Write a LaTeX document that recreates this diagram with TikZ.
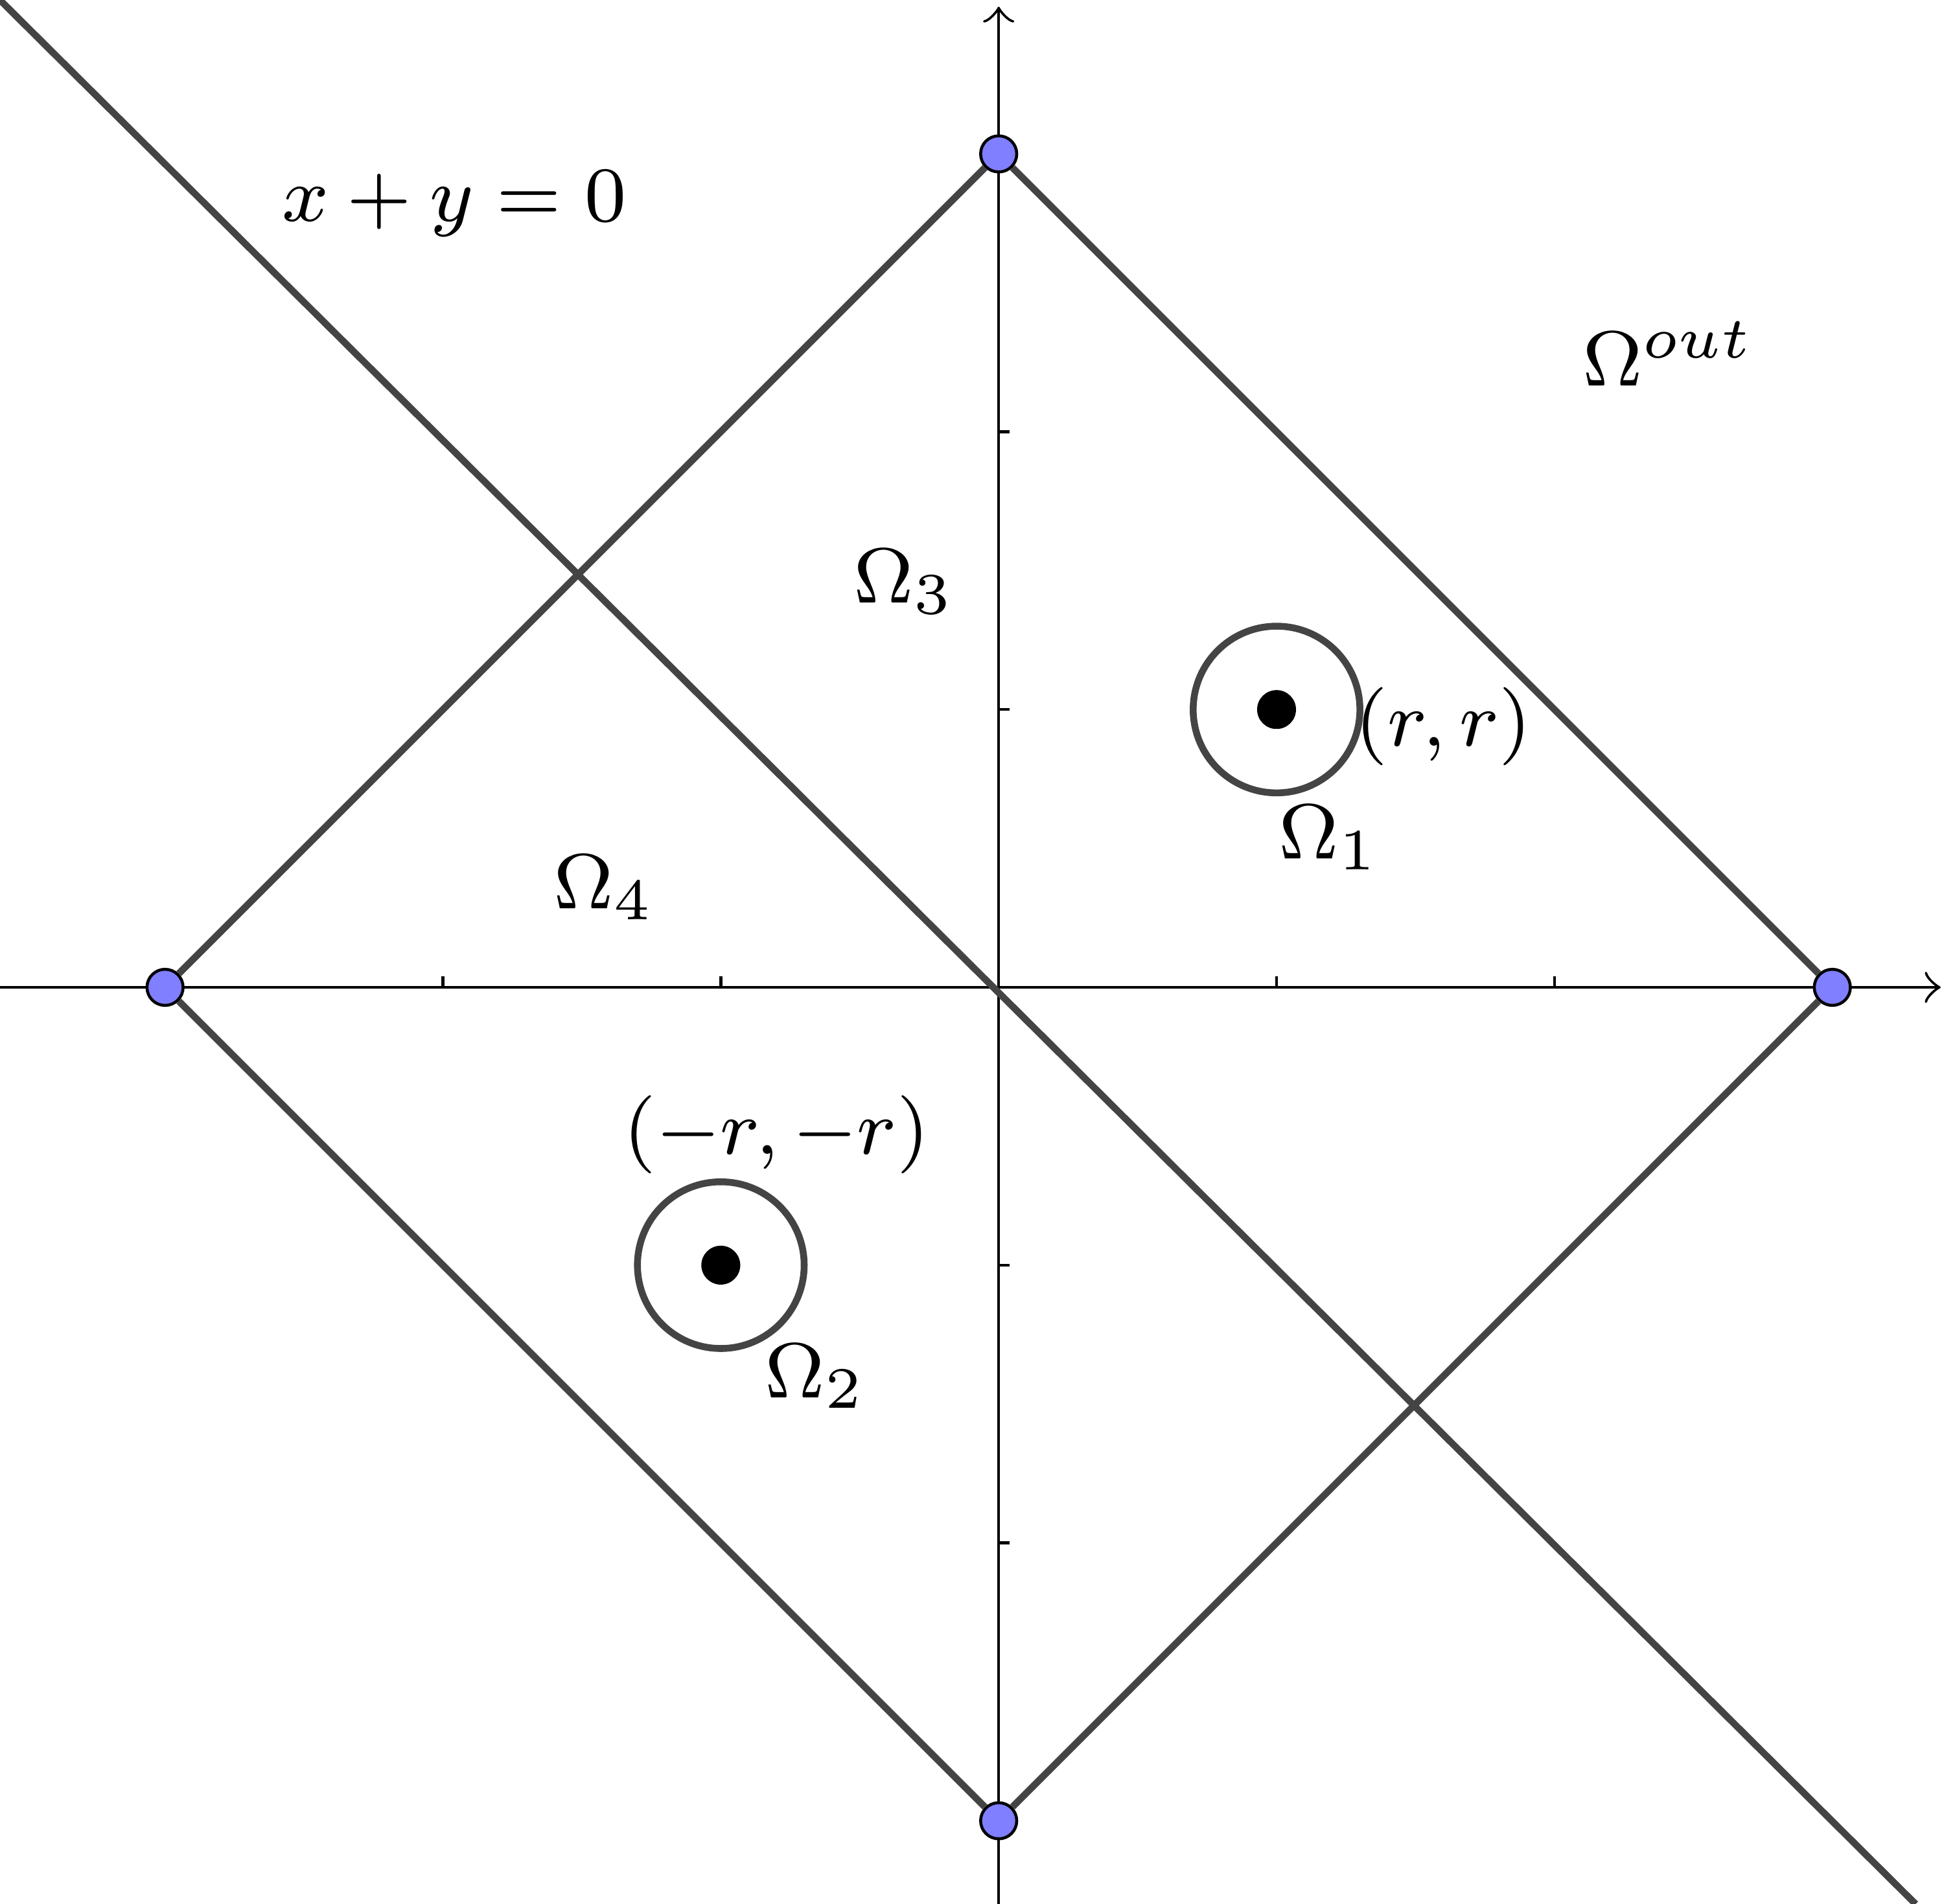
\documentclass[tikz,border=0pt]{standalone}
\usepackage{amssymb}
\usetikzlibrary{positioning,arrows}
\definecolor{linegray}{HTML}{444444}
\definecolor{ptblue}{HTML}{7F7FFF}
\begin{document}
\begin{tikzpicture}[
	font=\footnotesize,
	myline/.style={draw=linegray, line width=0.7pt},
	mypoint/.style={circle, draw=black, fill=ptblue, line width=0.3pt, inner sep=0pt, minimum size=0.13cm},
	mydot/.style={circle, fill=black, inner sep=0pt, minimum size=0.14cm},
	mylabel/.style={inner sep=0pt}
	]
	\useasboundingbox (-3.594,-3.299) rectangle (3.402,3.554);
	
	% axes
	\draw[->, line width=0.3pt] (-3.594,0) -- (3.39,0);
	\draw[->, line width=0.3pt] (0,-3.299) -- (0,3.53);
	\foreach \t in {-2,-1,1,2} {
		\draw[line width=0.3pt] (\t,0) -- (\t,0.04);
		\draw[line width=0.3pt] (0,\t) -- (0.04,\t);
	}
	
	\coordinate (tl) at (-3.594,3.554);
	\coordinate (br) at (3.30,-3.30);
	\node[mypoint] (w) at (-3,0) {};
	\node[mypoint] (e) at (3,0) {};
	\node[mypoint] (n) at (0,3) {};
	\node[mypoint] (s) at (0,-3) {};
	
	\draw[myline] (tl) -- (br);
	\draw[myline] (w) -- (n) -- (e) -- (s) -- (w);
	\draw[myline] (w) -- (n);
	
	\node[mydot] (p1) at (1,1) {};
	\node[mydot] (p2) at (-1,-1) {};
	\draw[myline] (p1) circle (0.3);
	\draw[myline] (p2) circle (0.3);
	
	\node[mylabel] (eq) at (-1.96,2.82) {$x+y=0$};
	\node[mylabel] (out) at (2.41,2.28) {$\Omega^{out}$};
	\node[mylabel] (o3) at (-0.34,1.46) {$\Omega_3$};
	\node[mylabel] (rr) at (1.60,0.94) {$(r,r)$};
	\node[mylabel] (o1) at (1.19,0.54) {$\Omega_1$};
	\node[mylabel] (o4) at (-1.42,0.36) {$\Omega_4$};
	\node[mylabel] (mrr) at (-0.80,-0.53) {$(-r,-r)$};
	\node[mylabel] (o2) at (-0.66,-1.40) {$\Omega_2$};
\end{tikzpicture}
\end{document}
